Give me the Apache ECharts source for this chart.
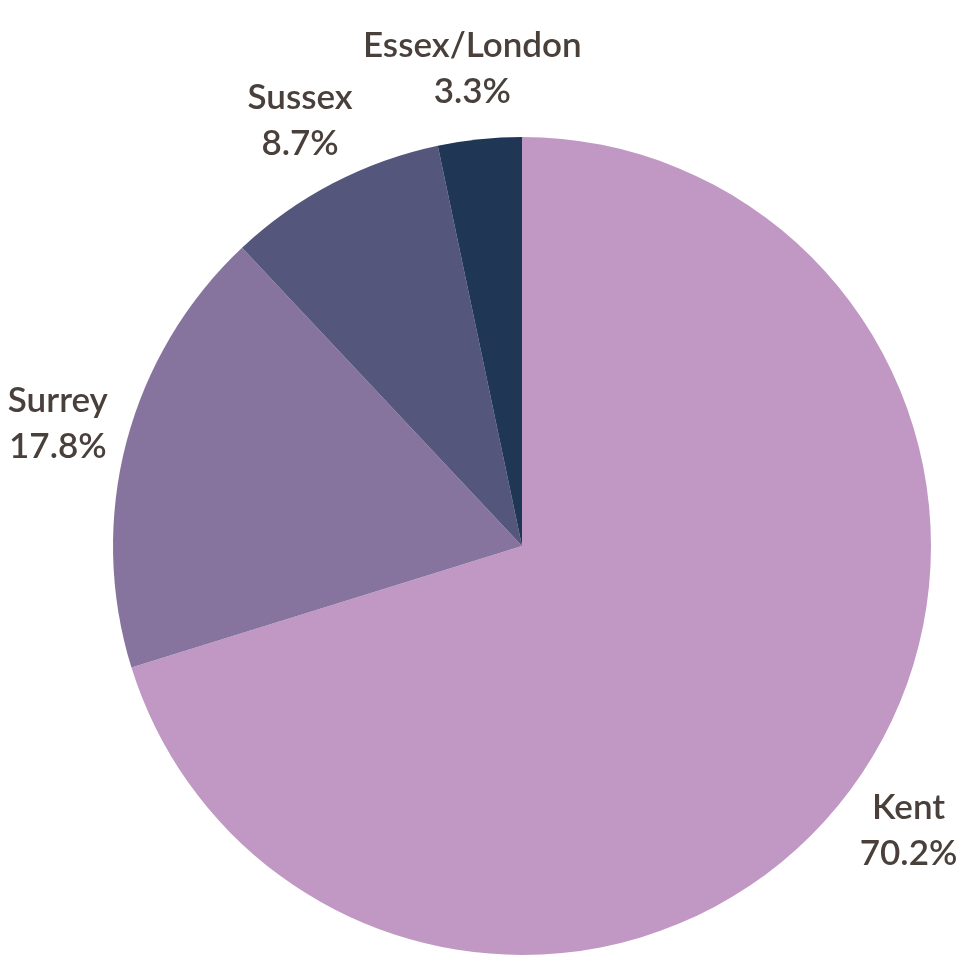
<!DOCTYPE html>
<html>
<head>
<meta charset="utf-8">
<script src="https://cdn.jsdelivr.net/npm/echarts@6/dist/echarts.min.js"></script>
<style>
  html, body { margin: 0; padding: 0; background: #fff; }
  #chart { width: 967px; height: 964px; }
</style>
</head>
<body>
<div id="chart"></div>
<script>
const regions = ['Kent', 'Surrey', 'Sussex', 'Essex/London'];
const shares = [70.2, 17.8, 8.7, 3.3];
const colors = ['#C098C3', '#86749E', '#54567B', '#1F3655'];

const cx = 522, cy = 546, radius = 409, labelRadius = 480;

// mid angle of each slice, clockwise from 12 o'clock
const total = shares.reduce((a, b) => a + b, 0);
const midAngles = [];
let acc = 0;
shares.forEach(v => {
    midAngles.push((acc + v / 2) / total * 2 * Math.PI);
    acc += v;
});

const chart = echarts.init(document.getElementById('chart'));

chart.setOption({
    animation: false,
    series: [{
        type: 'pie',
        center: [cx, cy],
        radius: radius,
        startAngle: 90,
        clockwise: true,
        data: regions.map((name, i) => ({
            name: name,
            value: shares[i],
            itemStyle: { color: colors[i] }
        })),
        label: {
            show: true,
            position: 'outside',
            alignTo: 'none',
            overflow: 'none',
            formatter: p => p.name + '\n' + p.value.toFixed(1) + '%',
            fontFamily: 'Lato',
            fontWeight: 600,
            fontSize: 35,
            lineHeight: 46,
            color: '#4A403B',
            align: 'center'
        },
        labelLine: { show: false },
        labelLayout: function (params) {
            const a = midAngles[params.dataIndex];
            return {
                x: cx + labelRadius * Math.sin(a),
                y: cy - labelRadius * Math.cos(a),
                align: 'center',
                verticalAlign: 'middle'
            };
        }
    }]
});
</script>
</body>
</html>
